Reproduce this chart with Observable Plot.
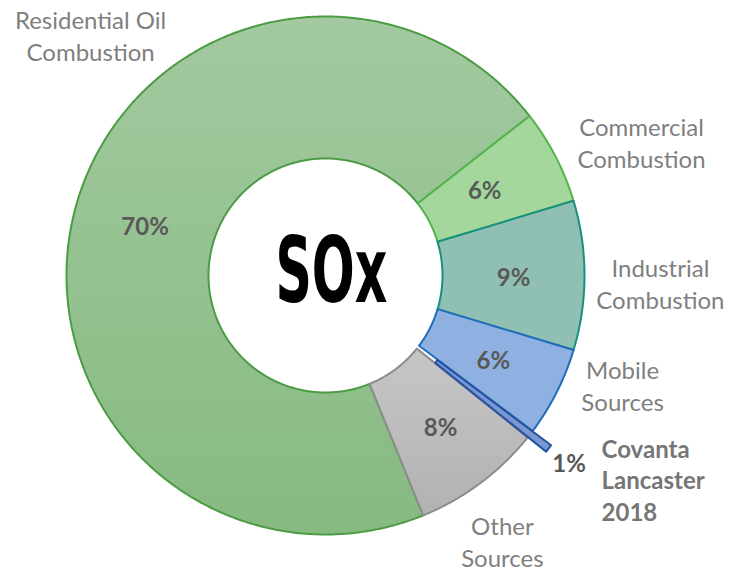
<!DOCTYPE html>
<html><head><meta charset="utf-8">
<script src="https://cdn.jsdelivr.net/npm/d3@7"></script>
<script src="https://cdn.jsdelivr.net/npm/@observablehq/plot@0.6"></script>
<style>body{margin:0;background:#fff}</style>
</head><body><div id="chart"></div>
<script>
// Data (clockwise from the top-right boundary)
const categories = ["Commercial\nCombustion", "Industrial\nCombustion", "Mobile\nSources", "Covanta\nLancaster\n2018", "Other\nSources", "Residential Oil\nCombustion"];
const shares = [5.9, 9.3, 5.6, 0.5, 8.1, 70.6];
const pctLabels = ["6%", "9%", "6%", "1%", "8%", "70%"];
const centerTitle = "SOx";

// Styles / layout
const fills = ["#a4d79c", "#8fc0b3", "#8fb1e2", "#7b97d2", "url(#gGray)", "url(#gGreen)"];
const strokes = ["#56b34c", "#17907e", "#1f6dbb", "#2453a3", "#8d8d8d", "#4c9c44"];
const explode = [0, 0, 0, 0.09, 0, 0];
const startDeg = 52;
const R1 = 1, R0 = 117 / 259;
const labelXY = [[1.220, 0.517], [1.293, -0.027], [1.147, -0.421], [1.066, -0.786], [0.683, -1.023], [-0.907, 0.930]];
const pctRadius = [0.726, 0.726, 0.726, 1.19, 0.726, 0.726];
const pctNudge = [[-0.03, -0.01], [0, -0.01], [0, -0.005], [0, 0], [0.01, -0.01], [0.005, 0]];

const rad = d => d * Math.PI / 180;
let acc = startDeg;
const slices = categories.map((c, i) => {
  const a0 = acc; acc += shares[i] * 3.6;
  return {i, name: c, a0, a1: acc, mid: (a0 + acc) / 2};
});

function ring(s) {
  const off = explode[s.i];
  const ox = off * Math.sin(rad(s.mid)), oy = off * Math.cos(rad(s.mid));
  const n = Math.max(4, Math.ceil((s.a1 - s.a0) / 0.5));
  const pts = [];
  for (let k = 0; k <= n; k++) { const a = rad(s.a0 + (s.a1 - s.a0) * k / n); pts.push({x: ox + R1 * Math.sin(a), y: oy + R1 * Math.cos(a)}); }
  for (let k = n; k >= 0; k--) { const a = rad(s.a0 + (s.a1 - s.a0) * k / n); pts.push({x: ox + R0 * Math.sin(a), y: oy + R0 * Math.cos(a)}); }
  return pts;
}

const pctData = slices.map(s => ({
  t: pctLabels[s.i],
  x: pctRadius[s.i] * Math.sin(rad(s.mid)) + pctNudge[s.i][0],
  y: pctRadius[s.i] * Math.cos(rad(s.mid)) + pctNudge[s.i][1]
}));
const catData = slices.map(s => ({t: s.name, x: labelXY[s.i][0], y: labelXY[s.i][1], bold: s.name.startsWith("Covanta")}));

const defs = () => {
  const d = d3.create("svg:defs");
  const g1 = d.append("linearGradient").attr("id", "gGreen").attr("x1", 0).attr("y1", 0).attr("x2", 0).attr("y2", 1);
  g1.append("stop").attr("offset", "0%").attr("stop-color", "#a3c9a0");
  g1.append("stop").attr("offset", "100%").attr("stop-color", "#86ba81");
  const g2 = d.append("linearGradient").attr("id", "gGray").attr("x1", 0).attr("y1", 0).attr("x2", 0).attr("y2", 1);
  g2.append("stop").attr("offset", "0%").attr("stop-color", "#c6c6c6");
  g2.append("stop").attr("offset", "100%").attr("stop-color", "#b2b2b2");
  return d.node();
};

const order = [5, 0, 1, 2, 4, 3];
const sliceMarks = order.map(i => Plot.line(ring(slices[i]), {
  x: "x", y: "y", fill: fills[i], stroke: strokes[i], strokeWidth: 2, curve: "linear-closed"
}));

const plot = Plot.plot({
  width: 740, height: 571, margin: 0,
  x: {domain: [-325 / 259, 415 / 259], range: [0, 740], axis: null},
  y: {domain: [-296 / 259, 275 / 259], range: [571, 0], axis: null},
  style: {fontFamily: "Lato, sans-serif", background: "#fff"},
  marks: [
    defs,
    ...sliceMarks,
    Plot.text(pctData, {x: "x", y: "y", text: "t", fontWeight: "bold", fontSize: 24, fill: "#595959"}),
    Plot.text(catData.filter(d => !d.bold), {x: "x", y: "y", text: "t", fontSize: 24, fill: "#7f7f7f", lineHeight: 1.33}),
    Plot.text(catData.filter(d => d.bold), {x: "x", y: "y", text: "t", fontSize: 24, fontWeight: "bold", fill: "#767676", lineHeight: 1.31, textAnchor: "start"}),
    Plot.text([centerTitle], {x: () => 0.023, y: () => 0.01, text: d => d, fontSize: 90, fontWeight: "bold", fontFamily: "DejaVu Sans Condensed", fill: "#000"})
  ]
});
d3.select(plot).selectAll("text").filter(function() { return this.textContent === centerTitle; })
  .attr("textLength", 112).attr("lengthAdjust", "spacingAndGlyphs");
document.getElementById("chart").append(plot);
</script>
</body></html>
